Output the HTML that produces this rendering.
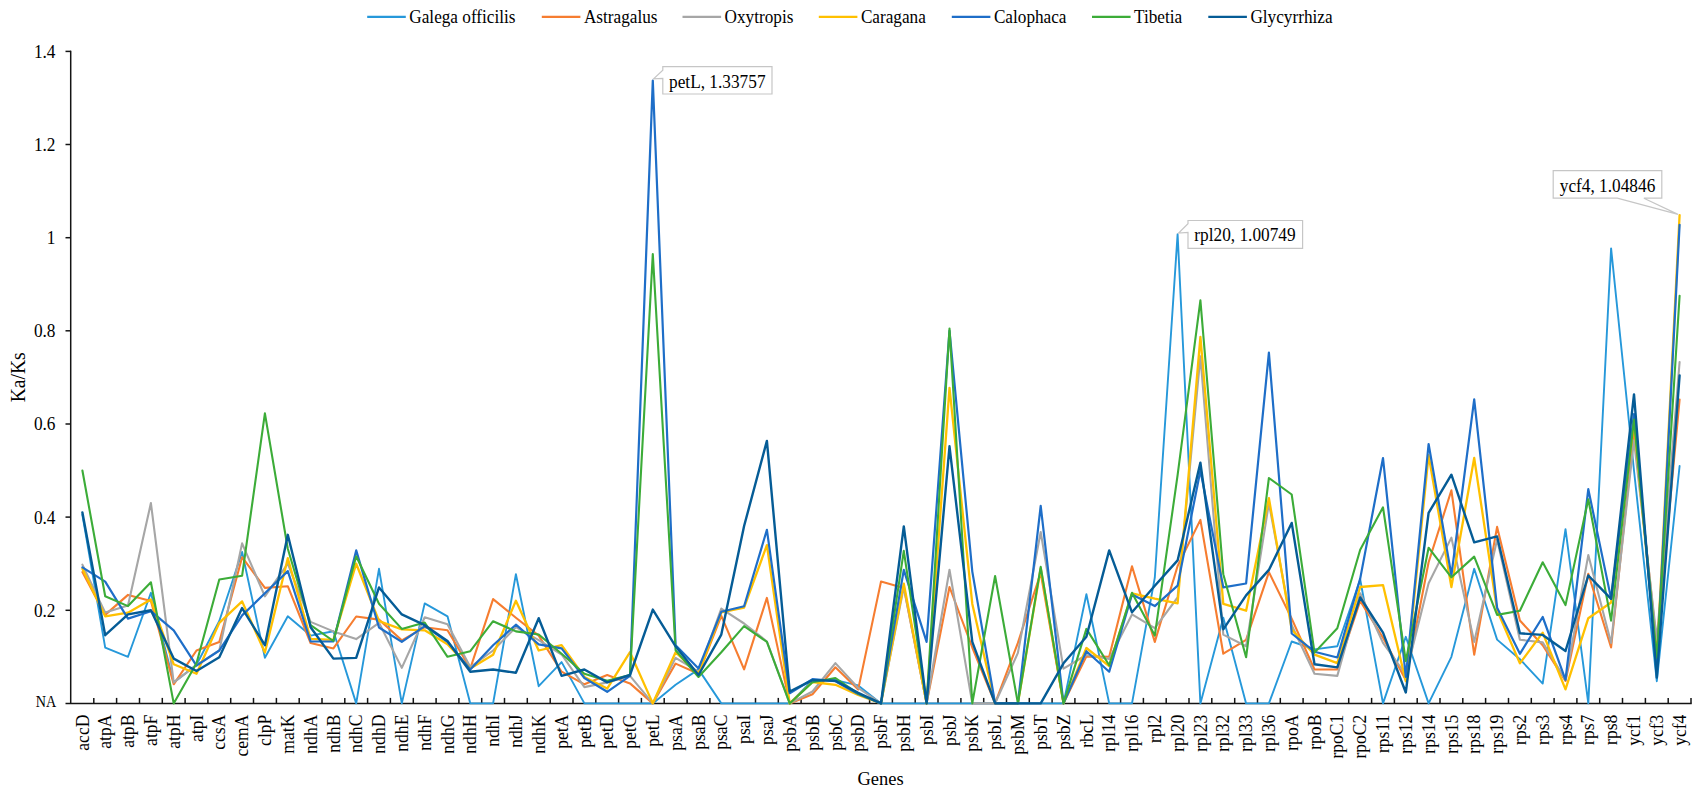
<!DOCTYPE html>
<html><head><meta charset="utf-8"><title>Ka/Ks</title>
<style>html,body{margin:0;padding:0;background:#fff}svg{display:block}text{font-family:"Liberation Serif","Times New Roman",serif;fill:#000}</style></head><body>
<svg width="1698" height="796" viewBox="0 0 1698 796">
<rect width="1698" height="796" fill="#fff"/>
<g stroke="#141414" stroke-width="1.5" fill="none">
<line x1="70.7" y1="50.7" x2="70.7" y2="704.1"/>
<line x1="65.5" y1="703.4" x2="1691.7" y2="703.4"/>
<line x1="65.5" y1="610.3" x2="71.0" y2="610.3"/>
<line x1="65.5" y1="517.1" x2="71.0" y2="517.1"/>
<line x1="65.5" y1="424.0" x2="71.0" y2="424.0"/>
<line x1="65.5" y1="330.8" x2="71.0" y2="330.8"/>
<line x1="65.5" y1="237.7" x2="71.0" y2="237.7"/>
<line x1="65.5" y1="144.5" x2="71.0" y2="144.5"/>
<line x1="65.5" y1="51.4" x2="71.0" y2="51.4"/>
<line x1="93.8" y1="697.9" x2="93.8" y2="703.4"/>
<line x1="116.6" y1="697.9" x2="116.6" y2="703.4"/>
<line x1="139.5" y1="697.9" x2="139.5" y2="703.4"/>
<line x1="162.3" y1="697.9" x2="162.3" y2="703.4"/>
<line x1="185.1" y1="697.9" x2="185.1" y2="703.4"/>
<line x1="207.9" y1="697.9" x2="207.9" y2="703.4"/>
<line x1="230.7" y1="697.9" x2="230.7" y2="703.4"/>
<line x1="253.5" y1="697.9" x2="253.5" y2="703.4"/>
<line x1="276.4" y1="697.9" x2="276.4" y2="703.4"/>
<line x1="299.2" y1="697.9" x2="299.2" y2="703.4"/>
<line x1="322.0" y1="697.9" x2="322.0" y2="703.4"/>
<line x1="344.8" y1="697.9" x2="344.8" y2="703.4"/>
<line x1="367.6" y1="697.9" x2="367.6" y2="703.4"/>
<line x1="390.4" y1="697.9" x2="390.4" y2="703.4"/>
<line x1="413.3" y1="697.9" x2="413.3" y2="703.4"/>
<line x1="436.1" y1="697.9" x2="436.1" y2="703.4"/>
<line x1="458.9" y1="697.9" x2="458.9" y2="703.4"/>
<line x1="481.7" y1="697.9" x2="481.7" y2="703.4"/>
<line x1="504.5" y1="697.9" x2="504.5" y2="703.4"/>
<line x1="527.3" y1="697.9" x2="527.3" y2="703.4"/>
<line x1="550.2" y1="697.9" x2="550.2" y2="703.4"/>
<line x1="573.0" y1="697.9" x2="573.0" y2="703.4"/>
<line x1="595.8" y1="697.9" x2="595.8" y2="703.4"/>
<line x1="618.6" y1="697.9" x2="618.6" y2="703.4"/>
<line x1="641.4" y1="697.9" x2="641.4" y2="703.4"/>
<line x1="664.2" y1="697.9" x2="664.2" y2="703.4"/>
<line x1="687.1" y1="697.9" x2="687.1" y2="703.4"/>
<line x1="709.9" y1="697.9" x2="709.9" y2="703.4"/>
<line x1="732.7" y1="697.9" x2="732.7" y2="703.4"/>
<line x1="755.5" y1="697.9" x2="755.5" y2="703.4"/>
<line x1="778.3" y1="697.9" x2="778.3" y2="703.4"/>
<line x1="801.1" y1="697.9" x2="801.1" y2="703.4"/>
<line x1="824.0" y1="697.9" x2="824.0" y2="703.4"/>
<line x1="846.8" y1="697.9" x2="846.8" y2="703.4"/>
<line x1="869.6" y1="697.9" x2="869.6" y2="703.4"/>
<line x1="892.4" y1="697.9" x2="892.4" y2="703.4"/>
<line x1="915.2" y1="697.9" x2="915.2" y2="703.4"/>
<line x1="938.0" y1="697.9" x2="938.0" y2="703.4"/>
<line x1="960.9" y1="697.9" x2="960.9" y2="703.4"/>
<line x1="983.7" y1="697.9" x2="983.7" y2="703.4"/>
<line x1="1006.5" y1="697.9" x2="1006.5" y2="703.4"/>
<line x1="1029.3" y1="697.9" x2="1029.3" y2="703.4"/>
<line x1="1052.1" y1="697.9" x2="1052.1" y2="703.4"/>
<line x1="1074.9" y1="697.9" x2="1074.9" y2="703.4"/>
<line x1="1097.8" y1="697.9" x2="1097.8" y2="703.4"/>
<line x1="1120.6" y1="697.9" x2="1120.6" y2="703.4"/>
<line x1="1143.4" y1="697.9" x2="1143.4" y2="703.4"/>
<line x1="1166.2" y1="697.9" x2="1166.2" y2="703.4"/>
<line x1="1189.0" y1="697.9" x2="1189.0" y2="703.4"/>
<line x1="1211.8" y1="697.9" x2="1211.8" y2="703.4"/>
<line x1="1234.7" y1="697.9" x2="1234.7" y2="703.4"/>
<line x1="1257.5" y1="697.9" x2="1257.5" y2="703.4"/>
<line x1="1280.3" y1="697.9" x2="1280.3" y2="703.4"/>
<line x1="1303.1" y1="697.9" x2="1303.1" y2="703.4"/>
<line x1="1325.9" y1="697.9" x2="1325.9" y2="703.4"/>
<line x1="1348.7" y1="697.9" x2="1348.7" y2="703.4"/>
<line x1="1371.6" y1="697.9" x2="1371.6" y2="703.4"/>
<line x1="1394.4" y1="697.9" x2="1394.4" y2="703.4"/>
<line x1="1417.2" y1="697.9" x2="1417.2" y2="703.4"/>
<line x1="1440.0" y1="697.9" x2="1440.0" y2="703.4"/>
<line x1="1462.8" y1="697.9" x2="1462.8" y2="703.4"/>
<line x1="1485.6" y1="697.9" x2="1485.6" y2="703.4"/>
<line x1="1508.5" y1="697.9" x2="1508.5" y2="703.4"/>
<line x1="1531.3" y1="697.9" x2="1531.3" y2="703.4"/>
<line x1="1554.1" y1="697.9" x2="1554.1" y2="703.4"/>
<line x1="1576.9" y1="697.9" x2="1576.9" y2="703.4"/>
<line x1="1599.7" y1="697.9" x2="1599.7" y2="703.4"/>
<line x1="1622.5" y1="697.9" x2="1622.5" y2="703.4"/>
<line x1="1645.4" y1="697.9" x2="1645.4" y2="703.4"/>
<line x1="1668.2" y1="697.9" x2="1668.2" y2="703.4"/>
<line x1="1691.0" y1="697.9" x2="1691.0" y2="703.4"/>
</g>
<polyline fill="none" stroke="#2698DA" stroke-width="1.9" stroke-linejoin="round" stroke-linecap="round" points="82.4,514.8 105.2,647.7 128.0,656.8 150.9,592.8 173.7,682.4 196.5,664.7 219.3,621.0 242.1,552.0 264.9,657.8 287.8,616.3 310.6,635.6 333.4,631.2 356.2,703.4 379.0,568.8 401.8,703.4 424.7,603.4 447.5,616.3 470.3,703.4 493.1,703.4 515.9,574.2 538.7,686.2 561.6,662.1 584.4,703.4 607.2,703.4 630.0,703.4 652.8,703.4 675.6,684.8 698.5,669.4 721.3,703.4 744.1,703.4 766.9,703.4 789.7,703.4 812.5,680.1 835.4,680.1 858.2,685.4 881.0,703.4 903.8,703.4 926.6,703.4 949.5,703.4 972.3,703.4 995.1,703.4 1017.9,703.4 1040.7,703.4 1063.5,703.4 1086.4,594.2 1109.2,703.4 1132.0,703.4 1154.8,577.7 1177.6,234.2 1200.4,703.4 1223.3,617.7 1246.1,703.4 1268.9,703.4 1291.7,641.5 1314.5,649.4 1337.3,646.3 1360.2,579.5 1383.0,703.4 1405.8,636.8 1428.6,703.4 1451.4,656.8 1474.2,568.8 1497.1,639.6 1519.9,659.2 1542.7,683.6 1565.5,529.2 1588.3,703.4 1611.1,248.4 1634.0,470.5 1656.8,681.2 1679.6,466.0"/>
<polyline fill="none" stroke="#F67D30" stroke-width="2.1" stroke-linejoin="round" stroke-linecap="round" points="82.4,572.1 105.2,614.9 128.0,594.9 150.9,600.9 173.7,684.3 196.5,650.5 219.3,641.9 242.1,557.2 264.9,587.9 287.8,586.2 310.6,643.0 333.4,648.4 356.2,616.5 379.0,619.6 401.8,640.3 424.7,627.2 447.5,630.3 470.3,668.5 493.1,599.1 515.9,617.7 538.7,635.6 561.6,671.7 584.4,684.3 607.2,675.0 630.0,683.4 652.8,703.4 675.6,663.6 698.5,673.8 721.3,615.8 744.1,669.4 766.9,597.9 789.7,703.4 812.5,694.3 835.4,667.3 858.2,689.4 881.0,581.6 903.8,587.9 926.6,703.4 949.5,587.0 972.3,647.5 995.1,703.4 1017.9,642.9 1040.7,573.0 1063.5,703.4 1086.4,656.4 1109.2,656.8 1132.0,566.3 1154.8,641.9 1177.6,566.0 1200.4,519.9 1223.3,653.7 1246.1,639.9 1268.9,572.1 1291.7,618.6 1314.5,669.5 1337.3,669.5 1360.2,600.9 1383.0,637.7 1405.8,680.1 1428.6,562.3 1451.4,490.3 1474.2,654.7 1497.1,526.9 1519.9,620.5 1542.7,645.2 1565.5,681.0 1588.3,573.7 1611.1,647.5 1634.0,431.0 1656.8,645.2 1679.6,399.5"/>
<polyline fill="none" stroke="#A6A6A6" stroke-width="2.1" stroke-linejoin="round" stroke-linecap="round" points="82.4,564.6 105.2,612.6 128.0,605.6 150.9,503.1 173.7,682.4 196.5,665.2 219.3,650.5 242.1,543.4 264.9,596.3 287.8,563.7 310.6,621.9 333.4,631.4 356.2,639.1 379.0,622.8 401.8,667.9 424.7,617.2 447.5,624.2 470.3,667.1 493.1,650.5 515.9,627.2 538.7,640.1 561.6,654.5 584.4,687.1 607.2,682.4 630.0,675.9 652.8,703.4 675.6,657.8 698.5,671.7 721.3,608.6 744.1,623.5 766.9,641.5 789.7,703.4 812.5,691.5 835.4,663.1 858.2,688.0 881.0,703.4 903.8,587.0 926.6,703.4 949.5,569.7 972.3,703.4 995.1,703.4 1017.9,652.9 1040.7,532.0 1063.5,668.6 1086.4,655.0 1109.2,659.0 1132.0,614.4 1154.8,628.2 1177.6,597.5 1200.4,356.4 1223.3,634.6 1246.1,646.3 1268.9,503.1 1291.7,625.2 1314.5,673.8 1337.3,675.9 1360.2,593.3 1383.0,642.9 1405.8,674.5 1428.6,583.2 1451.4,537.6 1474.2,641.9 1497.1,539.5 1519.9,639.7 1542.7,642.4 1565.5,679.9 1588.3,555.1 1611.1,642.9 1634.0,440.3 1656.8,639.6 1679.6,362.0"/>
<polyline fill="none" stroke="#FFC000" stroke-width="2.3" stroke-linejoin="round" stroke-linecap="round" points="82.4,568.8 105.2,616.3 128.0,612.7 150.9,599.5 173.7,664.3 196.5,673.8 219.3,622.8 242.1,601.4 264.9,652.6 287.8,558.2 310.6,638.8 333.4,639.9 356.2,563.7 379.0,621.0 401.8,629.4 424.7,630.3 447.5,644.3 470.3,668.5 493.1,654.7 515.9,600.7 538.7,650.5 561.6,645.2 584.4,677.0 607.2,688.6 630.0,652.2 652.8,703.4 675.6,652.2 698.5,673.8 721.3,612.3 744.1,607.5 766.9,545.1 789.7,703.4 812.5,682.0 835.4,684.8 858.2,695.0 881.0,703.4 903.8,583.7 926.6,703.4 949.5,387.9 972.3,603.9 995.1,703.4 1017.9,703.4 1040.7,568.3 1063.5,703.4 1086.4,648.0 1109.2,666.1 1132.0,593.3 1154.8,598.6 1177.6,603.3 1200.4,336.9 1223.3,603.8 1246.1,610.7 1268.9,498.2 1291.7,629.4 1314.5,654.7 1337.3,663.2 1360.2,587.0 1383.0,585.1 1405.8,681.2 1428.6,455.2 1451.4,587.0 1474.2,458.0 1497.1,610.3 1519.9,663.4 1542.7,632.6 1565.5,689.4 1588.3,618.2 1611.1,602.5 1634.0,422.6 1656.8,661.5 1679.6,215.1"/>
<polyline fill="none" stroke="#1E6EC8" stroke-width="2.2" stroke-linejoin="round" stroke-linecap="round" points="82.4,567.4 105.2,581.6 128.0,618.6 150.9,611.2 173.7,630.3 196.5,665.7 219.3,650.5 242.1,615.4 264.9,593.3 287.8,571.1 310.6,641.5 333.4,641.5 356.2,550.4 379.0,627.5 401.8,641.9 424.7,626.1 447.5,641.9 470.3,669.5 493.1,645.2 515.9,624.7 538.7,644.3 561.6,648.4 584.4,678.0 607.2,691.8 630.0,675.9 652.8,80.5 675.6,645.2 698.5,668.5 721.3,611.7 744.1,606.3 766.9,529.8 789.7,693.2 812.5,679.2 835.4,681.2 858.2,694.1 881.0,703.4 903.8,569.9 926.6,641.9 949.5,330.8 972.3,571.6 995.1,703.4 1017.9,703.4 1040.7,505.9 1063.5,703.4 1086.4,651.2 1109.2,671.7 1132.0,594.4 1154.8,606.1 1177.6,585.6 1200.4,470.5 1223.3,587.4 1246.1,583.5 1268.9,352.7 1291.7,633.5 1314.5,651.7 1337.3,657.5 1360.2,578.6 1383.0,458.0 1405.8,677.0 1428.6,444.0 1451.4,575.3 1474.2,399.3 1497.1,607.7 1519.9,653.8 1542.7,617.0 1565.5,679.8 1588.3,489.2 1611.1,598.6 1634.0,414.0 1656.8,666.1 1679.6,224.8"/>
<polyline fill="none" stroke="#3CAC38" stroke-width="2.1" stroke-linejoin="round" stroke-linecap="round" points="82.4,470.5 105.2,596.3 128.0,606.1 150.9,582.3 173.7,703.4 196.5,663.3 219.3,579.5 242.1,575.8 264.9,413.4 287.8,548.8 310.6,625.2 333.4,641.0 356.2,556.2 379.0,603.8 401.8,628.9 424.7,622.5 447.5,656.8 470.3,651.2 493.1,621.2 515.9,631.4 538.7,634.5 561.6,653.7 584.4,673.8 607.2,680.8 630.0,675.0 652.8,254.0 675.6,650.3 698.5,677.0 721.3,652.2 744.1,626.1 766.9,641.9 789.7,703.4 812.5,682.2 835.4,678.0 858.2,693.6 881.0,703.4 903.8,550.8 926.6,703.4 949.5,328.6 972.3,703.4 995.1,576.0 1017.9,703.4 1040.7,566.8 1063.5,703.4 1086.4,628.9 1109.2,665.3 1132.0,592.8 1154.8,635.6 1177.6,475.2 1200.4,300.3 1223.3,574.2 1246.1,657.3 1268.9,478.0 1291.7,494.5 1314.5,652.6 1337.3,628.2 1360.2,549.7 1383.0,507.3 1405.8,661.0 1428.6,547.7 1451.4,577.3 1474.2,556.6 1497.1,614.9 1519.9,610.7 1542.7,562.3 1565.5,605.1 1588.3,499.2 1611.1,620.6 1634.0,419.5 1656.8,657.8 1679.6,295.7"/>
<polyline fill="none" stroke="#055C96" stroke-width="2.4" stroke-linejoin="round" stroke-linecap="round" points="82.4,512.5 105.2,635.2 128.0,614.4 150.9,610.3 173.7,658.6 196.5,671.0 219.3,657.3 242.1,608.1 264.9,645.2 287.8,534.8 310.6,627.2 333.4,658.6 356.2,657.9 379.0,587.4 401.8,614.4 424.7,625.2 447.5,641.0 470.3,671.7 493.1,669.5 515.9,672.8 538.7,618.2 561.6,675.9 584.4,669.5 607.2,682.4 630.0,675.0 652.8,609.6 675.6,646.3 698.5,675.0 721.3,634.6 744.1,526.0 766.9,440.9 789.7,691.5 812.5,680.1 835.4,680.8 858.2,692.9 881.0,703.4 903.8,526.4 926.6,703.4 949.5,446.3 972.3,641.9 995.1,703.4 1017.9,703.4 1040.7,703.4 1063.5,663.3 1086.4,636.8 1109.2,550.4 1132.0,612.3 1154.8,585.8 1177.6,560.4 1200.4,462.6 1223.3,629.4 1246.1,595.4 1268.9,569.9 1291.7,522.9 1314.5,664.3 1337.3,667.4 1360.2,597.5 1383.0,632.6 1405.8,692.5 1428.6,512.9 1451.4,474.7 1474.2,542.4 1497.1,536.4 1519.9,633.3 1542.7,634.9 1565.5,651.0 1588.3,575.5 1611.1,598.9 1634.0,394.4 1656.8,677.6 1679.6,375.5"/>
<text transform="translate(56.2,706.7) scale(0.8585,1)" font-size="16.54" text-anchor="end">NA</text>
<text transform="translate(55.5,616.7) scale(0.9434,1)" font-size="18.34" text-anchor="end">0.2</text>
<text transform="translate(55.5,523.5) scale(0.9434,1)" font-size="18.34" text-anchor="end">0.4</text>
<text transform="translate(55.5,430.4) scale(0.9434,1)" font-size="18.34" text-anchor="end">0.6</text>
<text transform="translate(55.5,337.2) scale(0.9434,1)" font-size="18.34" text-anchor="end">0.8</text>
<text transform="translate(55.5,244.1) scale(0.9434,1)" font-size="18.34" text-anchor="end">1</text>
<text transform="translate(55.5,150.9) scale(0.9434,1)" font-size="18.34" text-anchor="end">1.2</text>
<text transform="translate(55.5,57.8) scale(0.9434,1)" font-size="18.34" text-anchor="end">1.4</text>
<text transform="translate(88.5,714.6) rotate(-90) scale(0.9434,1)" font-size="18.66" text-anchor="end">accD</text>
<text transform="translate(111.3,714.6) rotate(-90) scale(0.9434,1)" font-size="18.66" text-anchor="end">atpA</text>
<text transform="translate(134.1,714.6) rotate(-90) scale(0.9434,1)" font-size="18.66" text-anchor="end">atpB</text>
<text transform="translate(157.0,714.6) rotate(-90) scale(0.9434,1)" font-size="18.66" text-anchor="end">atpF</text>
<text transform="translate(179.8,714.6) rotate(-90) scale(0.9434,1)" font-size="18.66" text-anchor="end">atpH</text>
<text transform="translate(202.6,714.6) rotate(-90) scale(0.9434,1)" font-size="18.66" text-anchor="end">atpI</text>
<text transform="translate(225.4,714.6) rotate(-90) scale(0.9434,1)" font-size="18.66" text-anchor="end">ccsA</text>
<text transform="translate(248.2,714.6) rotate(-90) scale(0.9434,1)" font-size="18.66" text-anchor="end">cemA</text>
<text transform="translate(271.0,714.6) rotate(-90) scale(0.9434,1)" font-size="18.66" text-anchor="end">clpP</text>
<text transform="translate(293.9,714.6) rotate(-90) scale(0.9434,1)" font-size="18.66" text-anchor="end">matK</text>
<text transform="translate(316.7,714.6) rotate(-90) scale(0.9434,1)" font-size="18.66" text-anchor="end">ndhA</text>
<text transform="translate(339.5,714.6) rotate(-90) scale(0.9434,1)" font-size="18.66" text-anchor="end">ndhB</text>
<text transform="translate(362.3,714.6) rotate(-90) scale(0.9434,1)" font-size="18.66" text-anchor="end">ndhC</text>
<text transform="translate(385.1,714.6) rotate(-90) scale(0.9434,1)" font-size="18.66" text-anchor="end">ndhD</text>
<text transform="translate(407.9,714.6) rotate(-90) scale(0.9434,1)" font-size="18.66" text-anchor="end">ndhE</text>
<text transform="translate(430.8,714.6) rotate(-90) scale(0.9434,1)" font-size="18.66" text-anchor="end">ndhF</text>
<text transform="translate(453.6,714.6) rotate(-90) scale(0.9434,1)" font-size="18.66" text-anchor="end">ndhG</text>
<text transform="translate(476.4,714.6) rotate(-90) scale(0.9434,1)" font-size="18.66" text-anchor="end">ndhH</text>
<text transform="translate(499.2,714.6) rotate(-90) scale(0.9434,1)" font-size="18.66" text-anchor="end">ndhI</text>
<text transform="translate(522.0,714.6) rotate(-90) scale(0.9434,1)" font-size="18.66" text-anchor="end">ndhJ</text>
<text transform="translate(544.8,714.6) rotate(-90) scale(0.9434,1)" font-size="18.66" text-anchor="end">ndhK</text>
<text transform="translate(567.7,714.6) rotate(-90) scale(0.9434,1)" font-size="18.66" text-anchor="end">petA</text>
<text transform="translate(590.5,714.6) rotate(-90) scale(0.9434,1)" font-size="18.66" text-anchor="end">petB</text>
<text transform="translate(613.3,714.6) rotate(-90) scale(0.9434,1)" font-size="18.66" text-anchor="end">petD</text>
<text transform="translate(636.1,714.6) rotate(-90) scale(0.9434,1)" font-size="18.66" text-anchor="end">petG</text>
<text transform="translate(658.9,714.6) rotate(-90) scale(0.9434,1)" font-size="18.66" text-anchor="end">petL</text>
<text transform="translate(681.7,714.6) rotate(-90) scale(0.9434,1)" font-size="18.66" text-anchor="end">psaA</text>
<text transform="translate(704.6,714.6) rotate(-90) scale(0.9434,1)" font-size="18.66" text-anchor="end">psaB</text>
<text transform="translate(727.4,714.6) rotate(-90) scale(0.9434,1)" font-size="18.66" text-anchor="end">psaC</text>
<text transform="translate(750.2,714.6) rotate(-90) scale(0.9434,1)" font-size="18.66" text-anchor="end">psaI</text>
<text transform="translate(773.0,714.6) rotate(-90) scale(0.9434,1)" font-size="18.66" text-anchor="end">psaJ</text>
<text transform="translate(795.8,714.6) rotate(-90) scale(0.9434,1)" font-size="18.66" text-anchor="end">psbA</text>
<text transform="translate(818.6,714.6) rotate(-90) scale(0.9434,1)" font-size="18.66" text-anchor="end">psbB</text>
<text transform="translate(841.5,714.6) rotate(-90) scale(0.9434,1)" font-size="18.66" text-anchor="end">psbC</text>
<text transform="translate(864.3,714.6) rotate(-90) scale(0.9434,1)" font-size="18.66" text-anchor="end">psbD</text>
<text transform="translate(887.1,714.6) rotate(-90) scale(0.9434,1)" font-size="18.66" text-anchor="end">psbF</text>
<text transform="translate(909.9,714.6) rotate(-90) scale(0.9434,1)" font-size="18.66" text-anchor="end">psbH</text>
<text transform="translate(932.7,714.6) rotate(-90) scale(0.9434,1)" font-size="18.66" text-anchor="end">psbI</text>
<text transform="translate(955.6,714.6) rotate(-90) scale(0.9434,1)" font-size="18.66" text-anchor="end">psbJ</text>
<text transform="translate(978.4,714.6) rotate(-90) scale(0.9434,1)" font-size="18.66" text-anchor="end">psbK</text>
<text transform="translate(1001.2,714.6) rotate(-90) scale(0.9434,1)" font-size="18.66" text-anchor="end">psbL</text>
<text transform="translate(1024.0,714.6) rotate(-90) scale(0.9434,1)" font-size="18.66" text-anchor="end">psbM</text>
<text transform="translate(1046.8,714.6) rotate(-90) scale(0.9434,1)" font-size="18.66" text-anchor="end">psbT</text>
<text transform="translate(1069.6,714.6) rotate(-90) scale(0.9434,1)" font-size="18.66" text-anchor="end">psbZ</text>
<text transform="translate(1092.5,714.6) rotate(-90) scale(0.9434,1)" font-size="18.66" text-anchor="end">rbcL</text>
<text transform="translate(1115.3,714.6) rotate(-90) scale(0.9434,1)" font-size="18.66" text-anchor="end">rpl14</text>
<text transform="translate(1138.1,714.6) rotate(-90) scale(0.9434,1)" font-size="18.66" text-anchor="end">rpl16</text>
<text transform="translate(1160.9,714.6) rotate(-90) scale(0.9434,1)" font-size="18.66" text-anchor="end">rpl2</text>
<text transform="translate(1183.7,714.6) rotate(-90) scale(0.9434,1)" font-size="18.66" text-anchor="end">rpl20</text>
<text transform="translate(1206.5,714.6) rotate(-90) scale(0.9434,1)" font-size="18.66" text-anchor="end">rpl23</text>
<text transform="translate(1229.4,714.6) rotate(-90) scale(0.9434,1)" font-size="18.66" text-anchor="end">rpl32</text>
<text transform="translate(1252.2,714.6) rotate(-90) scale(0.9434,1)" font-size="18.66" text-anchor="end">rpl33</text>
<text transform="translate(1275.0,714.6) rotate(-90) scale(0.9434,1)" font-size="18.66" text-anchor="end">rpl36</text>
<text transform="translate(1297.8,714.6) rotate(-90) scale(0.9434,1)" font-size="18.66" text-anchor="end">rpoA</text>
<text transform="translate(1320.6,714.6) rotate(-90) scale(0.9434,1)" font-size="18.66" text-anchor="end">rpoB</text>
<text transform="translate(1343.4,714.6) rotate(-90) scale(0.9434,1)" font-size="18.66" text-anchor="end">rpoC1</text>
<text transform="translate(1366.3,714.6) rotate(-90) scale(0.9434,1)" font-size="18.66" text-anchor="end">rpoC2</text>
<text transform="translate(1389.1,714.6) rotate(-90) scale(0.9434,1)" font-size="18.66" text-anchor="end">rps11</text>
<text transform="translate(1411.9,714.6) rotate(-90) scale(0.9434,1)" font-size="18.66" text-anchor="end">rps12</text>
<text transform="translate(1434.7,714.6) rotate(-90) scale(0.9434,1)" font-size="18.66" text-anchor="end">rps14</text>
<text transform="translate(1457.5,714.6) rotate(-90) scale(0.9434,1)" font-size="18.66" text-anchor="end">rps15</text>
<text transform="translate(1480.3,714.6) rotate(-90) scale(0.9434,1)" font-size="18.66" text-anchor="end">rps18</text>
<text transform="translate(1503.2,714.6) rotate(-90) scale(0.9434,1)" font-size="18.66" text-anchor="end">rps19</text>
<text transform="translate(1526.0,714.6) rotate(-90) scale(0.9434,1)" font-size="18.66" text-anchor="end">rps2</text>
<text transform="translate(1548.8,714.6) rotate(-90) scale(0.9434,1)" font-size="18.66" text-anchor="end">rps3</text>
<text transform="translate(1571.6,714.6) rotate(-90) scale(0.9434,1)" font-size="18.66" text-anchor="end">rps4</text>
<text transform="translate(1594.4,714.6) rotate(-90) scale(0.9434,1)" font-size="18.66" text-anchor="end">rps7</text>
<text transform="translate(1617.2,714.6) rotate(-90) scale(0.9434,1)" font-size="18.66" text-anchor="end">rps8</text>
<text transform="translate(1640.1,714.6) rotate(-90) scale(0.9434,1)" font-size="18.66" text-anchor="end">ycf1</text>
<text transform="translate(1662.9,714.6) rotate(-90) scale(0.9434,1)" font-size="18.66" text-anchor="end">ycf3</text>
<text transform="translate(1685.7,714.6) rotate(-90) scale(0.9434,1)" font-size="18.66" text-anchor="end">ycf4</text>
<text transform="translate(880.5,784.8) scale(0.9434,1)" font-size="19.61" text-anchor="middle">Genes</text>
<text transform="translate(25.2,377.3) rotate(-90) scale(0.9434,1)" font-size="20.67" text-anchor="middle">Ka/Ks</text>
<line x1="367.2" y1="16.9" x2="405.8" y2="16.9" stroke="#2698DA" stroke-width="2.3"/>
<text transform="translate(409.3,23.1) scale(0.9434,1)" font-size="18.23" text-anchor="start">Galega officilis</text>
<line x1="541.8" y1="16.9" x2="580.4" y2="16.9" stroke="#F67D30" stroke-width="2.3"/>
<text transform="translate(583.9,23.1) scale(0.9434,1)" font-size="18.23" text-anchor="start">Astragalus</text>
<line x1="682.5" y1="16.9" x2="721.1" y2="16.9" stroke="#A6A6A6" stroke-width="2.3"/>
<text transform="translate(724.6,23.1) scale(0.9434,1)" font-size="18.23" text-anchor="start">Oxytropis</text>
<line x1="818.8" y1="16.9" x2="857.4" y2="16.9" stroke="#FFC000" stroke-width="2.3"/>
<text transform="translate(860.9,23.1) scale(0.9434,1)" font-size="18.23" text-anchor="start">Caragana</text>
<line x1="951.8" y1="16.9" x2="990.4" y2="16.9" stroke="#1E6EC8" stroke-width="2.3"/>
<text transform="translate(993.9,23.1) scale(0.9434,1)" font-size="18.23" text-anchor="start">Calophaca</text>
<line x1="1092.0" y1="16.9" x2="1130.6" y2="16.9" stroke="#3CAC38" stroke-width="2.3"/>
<text transform="translate(1134.1,23.1) scale(0.9434,1)" font-size="18.23" text-anchor="start">Tibetia</text>
<line x1="1208.3" y1="16.9" x2="1246.9" y2="16.9" stroke="#055C96" stroke-width="2.3"/>
<text transform="translate(1250.4,23.1) scale(0.9434,1)" font-size="18.23" text-anchor="start">Glycyrrhiza</text>
<polygon points="662.8,66.7 772,66.7 772,94 662.8,94 662.8,78.5 653.6,78.9 662.8,70.2" fill="#fff" stroke="#C6C6C6" stroke-width="1.2" stroke-linejoin="miter"/>
<text transform="translate(717.3,87.6) scale(0.9434,1)" font-size="18.34" text-anchor="middle">petL, 1.33757</text>
<polygon points="1188,220.5 1302.6,220.5 1302.6,248.4 1188,248.4 1188,232.4 1178.6,233 1188,223.7" fill="#fff" stroke="#C6C6C6" stroke-width="1.2" stroke-linejoin="miter"/>
<text transform="translate(1245.0,241.2) scale(0.9434,1)" font-size="18.34" text-anchor="middle">rpl20, 1.00749</text>
<polygon points="1553.2,170.6 1661.8,170.6 1661.8,198.2 1643.9,198.2 1678,214.4 1617.3,198.2 1553.2,198.2" fill="#fff" stroke="#C6C6C6" stroke-width="1.2" stroke-linejoin="miter"/>
<text transform="translate(1607.5,191.8) scale(0.9434,1)" font-size="18.34" text-anchor="middle">ycf4, 1.04846</text>
</svg></body></html>
